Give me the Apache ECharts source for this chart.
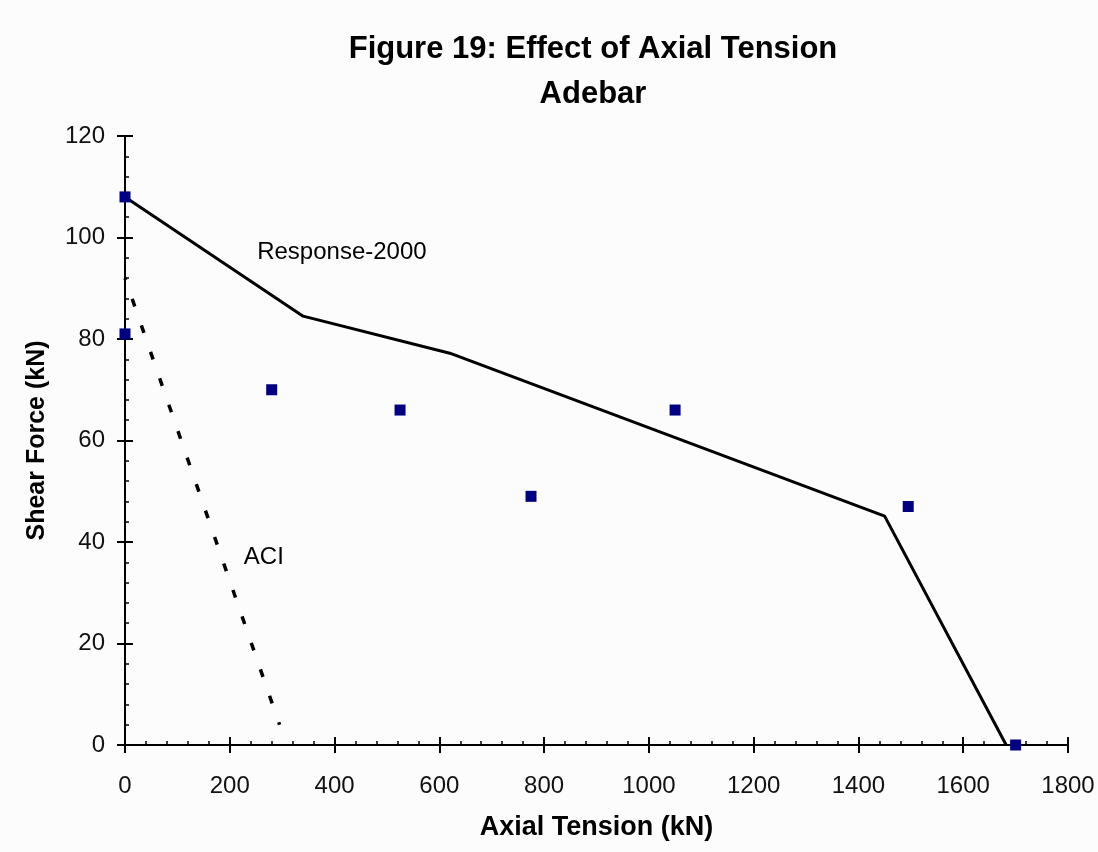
<!DOCTYPE html>
<html><head><meta charset="utf-8">
<script src="https://cdn.jsdelivr.net/npm/echarts@6/dist/echarts.min.js"></script>
<style>html,body{margin:0;padding:0;background:#fcfcfc}#c{width:1098px;height:852px}</style>
</head><body><div id="c"></div>
<script>
// Experimental data (Adebar)
const testTension = [0, 0, 280, 525, 775, 1050, 1495, 1700];
const testShear   = [108, 81, 70, 66, 49, 66, 47, 0];
// Response-2000 prediction
const r2kTension = [0, 340, 620, 1450, 1682];
const r2kShear   = [108, 84.5, 77.2, 45.1, 0];
// ACI prediction
const aciTension = [0, 295];
const aciShear   = [92, 4];
// Annotations
const labelTexts = ['Response-2000', 'ACI'];
const labelX = [414, 265];
const labelY = [97.1, 37.0];
const xTicks = [0,200,400,600,800,1000,1200,1400,1600,1800];
const yTicks = [0,20,40,60,80,100,120];

const zip = (a,b)=>a.map((v,i)=>[v,b[i]]);
const chart = echarts.init(document.getElementById('c'));
const FONT = 'Liberation Sans, Arial, sans-serif';
const axisCommon = {
  axisLine:{show:true,onZero:false,lineStyle:{color:'#000',width:2}},
  splitLine:{show:false}
};
const fmt = v => String(v);
chart.setOption({
  backgroundColor:'#fcfcfc',
  animation:false,
  title:{
    text:'Figure 19: Effect of Axial Tension\nAdebar',
    left:588, top:22, textAlign:'center',
    textStyle:{fontFamily:FONT,fontWeight:'bold',fontSize:31,color:'#000',lineHeight:45}
  },
  grid:{left:125,right:30,top:136,bottom:107},
  xAxis:[
    Object.assign({},axisCommon,{type:'value',min:0,max:1800,interval:200,
      name:'Axial Tension (kN)',nameLocation:'middle',nameGap:69,
      nameTextStyle:{fontFamily:FONT,fontWeight:'bold',fontSize:27,color:'#000'},
      axisTick:{show:true,inside:false,length:8,lineStyle:{color:'#000',width:2}},
      axisLabel:{fontFamily:FONT,fontSize:24,color:'#111',margin:29,formatter:fmt}}),
    Object.assign({},axisCommon,{type:'value',min:0,max:1800,interval:200,position:'bottom',
      axisTick:{show:true,inside:true,length:8,lineStyle:{color:'#000',width:2}},
      minorTick:{show:true,splitNumber:5,length:4,lineStyle:{color:'#000',width:1.5}},
      axisLabel:{show:false}})
  ],
  yAxis:[
    Object.assign({},axisCommon,{type:'value',min:0,max:120,interval:20,
      name:'Shear Force (kN)',nameLocation:'middle',nameGap:75,
      nameTextStyle:{fontFamily:FONT,fontWeight:'bold',fontSize:25,color:'#000'},
      axisTick:{show:true,inside:false,length:8,lineStyle:{color:'#000',width:2}},
      axisLabel:{fontFamily:FONT,fontSize:24,color:'#111',margin:20,formatter:fmt}}),
    Object.assign({},axisCommon,{type:'value',min:0,max:120,interval:20,position:'left',
      axisTick:{show:true,inside:true,length:8,lineStyle:{color:'#000',width:2}},
      minorTick:{show:true,splitNumber:5,length:4,lineStyle:{color:'#000',width:1.5}},
      axisLabel:{show:false}})
  ],
  series:[
    {type:'line',name:'Response-2000',data:zip(r2kTension,r2kShear),showSymbol:false,symbol:'none',
      lineStyle:{color:'#000',width:3},z:2},
    {type:'line',name:'ACI',data:zip(aciTension,aciShear),showSymbol:false,symbol:'none',
      lineStyle:{color:'#000',width:3.5,type:[8,20],dashOffset:6},z:2},
    {type:'scatter',name:'Test',data:zip(testTension,testShear),symbol:'rect',symbolSize:11,
      itemStyle:{color:'#000080',opacity:1},z:3},
    {type:'scatter',name:'labels',data:labelTexts.map((t,i)=>({value:[labelX[i],labelY[i]],name:t})),
      symbolSize:0,silent:true,itemStyle:{opacity:1},
      label:{show:true,position:'inside',formatter:p=>p.name,fontFamily:FONT,fontSize:24,color:'#000',opacity:1}}
  ]
});
</script></body></html>
